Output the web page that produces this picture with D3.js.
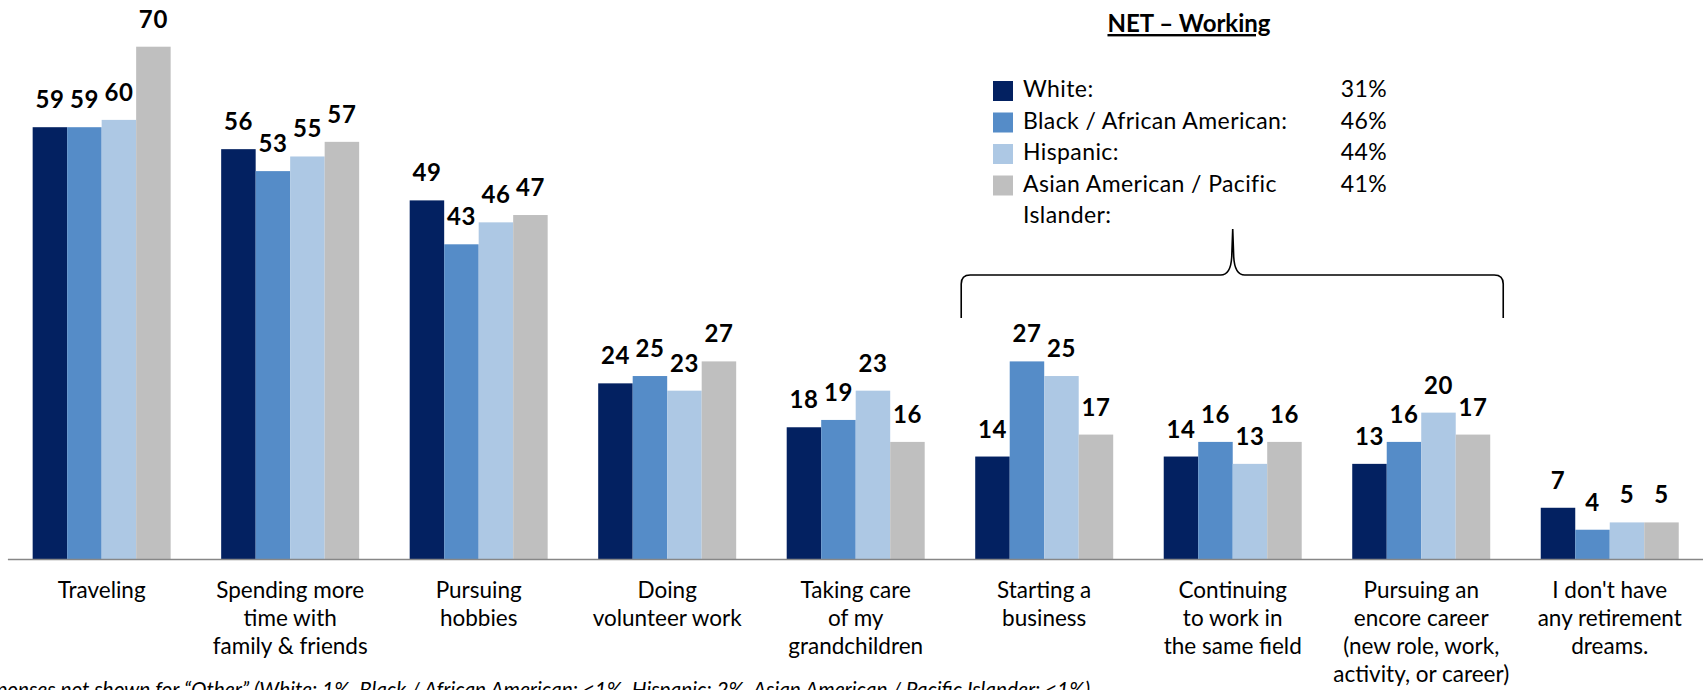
<!DOCTYPE html>
<html>
<head>
<meta charset="utf-8">
<script src="https://cdn.jsdelivr.net/npm/d3@7"></script>
<style>
  html, body { margin: 0; padding: 0; background: #fff; }
  svg { display: block; font-family: Lato, "Open Sans", sans-serif; }
</style>
</head>
<body>
<svg id="chart"></svg>
<script>
// categories (each entry = lines of the x label)
const categories = [
    ['Traveling'],
    ['Spending more', 'time with', 'family & friends'],
    ['Pursuing', 'hobbies'],
    ['Doing', 'volunteer work'],
    ['Taking care', 'of my', 'grandchildren'],
    ['Starting a', 'business'],
    ['Continuing', 'to work in', 'the same field'],
    ['Pursuing an', 'encore career', '(new role, work,', 'activity, or career)'],
    ["I don't have", 'any retirement', 'dreams.']
];
const seriesNames = ['White', 'Black / African American', 'Hispanic', 'Asian American / Pacific Islander'];
const white    = [59, 56, 49, 24, 18, 14, 14, 13, 7];
const black    = [59, 53, 43, 25, 19, 27, 16, 16, 4];
const hispanic = [60, 55, 46, 23, 23, 25, 13, 20, 5];
const asian    = [70, 57, 47, 27, 16, 17, 16, 17, 5];
const netWorking = ['31%', '46%', '44%', '41%'];
const legendLabels = [['White:'], ['Black / African American:'], ['Hispanic:'], ['Asian American / Pacific', 'Islander:']];
const footnote = 'Responses not shown for \u201cOther\u201d (White: 1%, Black / African American: <1%, Hispanic: 2%, Asian American / Pacific Islander: <1%)';

class GroupedBars {
    constructor() {
        this.width = 1703;
        this.height = 690;
        this.colors = ['#032161', '#558cc8', '#adc8e4', '#bfbfbf'];
        this.baseline = 559;
        this.svg = null;
        this.x = null;
        this.xs = null;
        this.y = null;
    }

    init() {
        this.svg = d3.select('#chart')
            .attr('width', this.width)
            .attr('height', this.height);

        const keys = categories.map(c => c.join(' '));
        this.x = d3.scaleBand().domain(keys).range([7.4, 1704]).paddingInner(0.268).paddingOuter(0.134);
        this.xs = d3.scaleBand().domain(d3.range(4)).range([0, this.x.bandwidth()]);
        this.y = d3.scaleLinear().domain([0, 70]).range([this.baseline, 46.7]);

        this.rows = keys.map((k, i) => ({
            key: k,
            lines: categories[i],
            values: [white[i], black[i], hispanic[i], asian[i]]
        }));

        this.render();
    }

    render() {
        const x = this.x, xs = this.xs, y = this.y;

        const groups = this.svg.append('g').selectAll('g')
            .data(this.rows)
            .enter()
            .append('g')
            .attr('transform', d => `translate(${x(d.key)},0)`);

        groups.selectAll('rect')
            .data(d => d.values)
            .enter()
            .append('rect')
            .attr('x', (v, j) => xs(j))
            .attr('y', v => y(v))
            .attr('width', xs.bandwidth())
            .attr('height', v => y(0) - y(v))
            .attr('fill', (v, j) => this.colors[j]);

        // value labels
        groups.selectAll('text.val')
            .data(d => d.values)
            .enter()
            .append('text')
            .attr('class', 'val')
            .attr('x', (v, j) => xs(j) + xs.bandwidth() / 2)
            .attr('y', v => y(v) - 19)
            .attr('text-anchor', 'middle')
            .attr('font-size', 24)
            .attr('font-weight', 'bold')
            .attr('letter-spacing', 0.6)
            .attr('fill', '#000')
            .text(v => v);

        // axis line
        const xaxis = d3.axisBottom(x).tickSize(0).tickFormat('');
        const axisG = this.svg.append('g')
            .attr('transform', `translate(0,${this.baseline})`)
            .call(xaxis);
        axisG.select('.domain').attr('stroke', '#878787').attr('stroke-width', 1.6);

        // category labels
        groups.append('text')
            .attr('text-anchor', 'middle')
            .attr('font-size', 22.5)
            .attr('fill', '#000')
            .selectAll('tspan')
            .data(d => d.lines)
            .enter()
            .append('tspan')
            .attr('x', x.bandwidth() / 2)
            .attr('y', (l, i) => 598 + i * 28)
            .text(l => l);

        // footnote (runs off the left edge as in the original)
        this.svg.append('text')
            .attr('x', 1090)
            .attr('y', 697)
            .attr('text-anchor', 'end')
            .attr('font-size', 20.8)
            .attr('font-style', 'italic')
            .attr('fill', '#000')
            .text(footnote);

        this.drawLegend();
        this.drawBrace();
    }

    drawLegend() {
        const g = this.svg.append('g');
        g.append('text')
            .attr('x', 1189)
            .attr('y', 32)
            .attr('text-anchor', 'middle')
            .attr('font-size', 24)
            .attr('font-weight', 'bold')
            .attr('text-decoration', 'underline')
            .text('NET \u2013 Working');

        const rowY = [97, 128.5, 160, 191.5];
        const item = g.selectAll('g.item')
            .data(seriesNames)
            .enter()
            .append('g')
            .attr('class', 'item');

        item.append('rect')
            .attr('x', 993)
            .attr('y', (d, i) => rowY[i] - 16)
            .attr('width', 20)
            .attr('height', 20)
            .attr('fill', (d, i) => this.colors[i]);

        item.append('text')
            .attr('font-size', 23)
            .attr('letter-spacing', 0.4)
            .selectAll('tspan')
            .data((d, i) => legendLabels[i].map(l => ({ l, i })))
            .enter()
            .append('tspan')
            .attr('x', 1023)
            .attr('y', (d, k) => rowY[d.i] + k * 31.5)
            .text(d => d.l);

        item.append('text')
            .attr('x', 1387)
            .attr('y', (d, i) => rowY[i])
            .attr('text-anchor', 'end')
            .attr('font-size', 23)
            .attr('letter-spacing', 0.4)
            .text((d, i) => netWorking[i]);
    }

    drawBrace() {
        const x = this.x;
        const keys = this.rows.map(r => r.key);
        const left = x(keys[5]) - 14;
        const right = x(keys[7]) + x.bandwidth() + 13;
        const mid = x(keys[6]) + x.bandwidth() / 2;
        const top = 275, bottom = 318, tip = 229;

        const p = d3.path();
        p.moveTo(left, bottom);
        p.lineTo(left, top + 9);
        p.quadraticCurveTo(left, top, left + 9, top);
        p.lineTo(mid - 12, top);
        p.quadraticCurveTo(mid - 2, top, mid - 1, top - 18);
        p.lineTo(mid, tip);
        p.lineTo(mid + 1, top - 18);
        p.quadraticCurveTo(mid + 2, top, mid + 12, top);
        p.lineTo(right - 9, top);
        p.quadraticCurveTo(right, top, right, top + 9);
        p.lineTo(right, bottom);

        this.svg.append('path')
            .attr('d', p.toString())
            .attr('fill', 'none')
            .attr('stroke', '#000')
            .attr('stroke-width', 1.6);
    }
}

const chart = new GroupedBars();
chart.init();
</script>
</body>
</html>
